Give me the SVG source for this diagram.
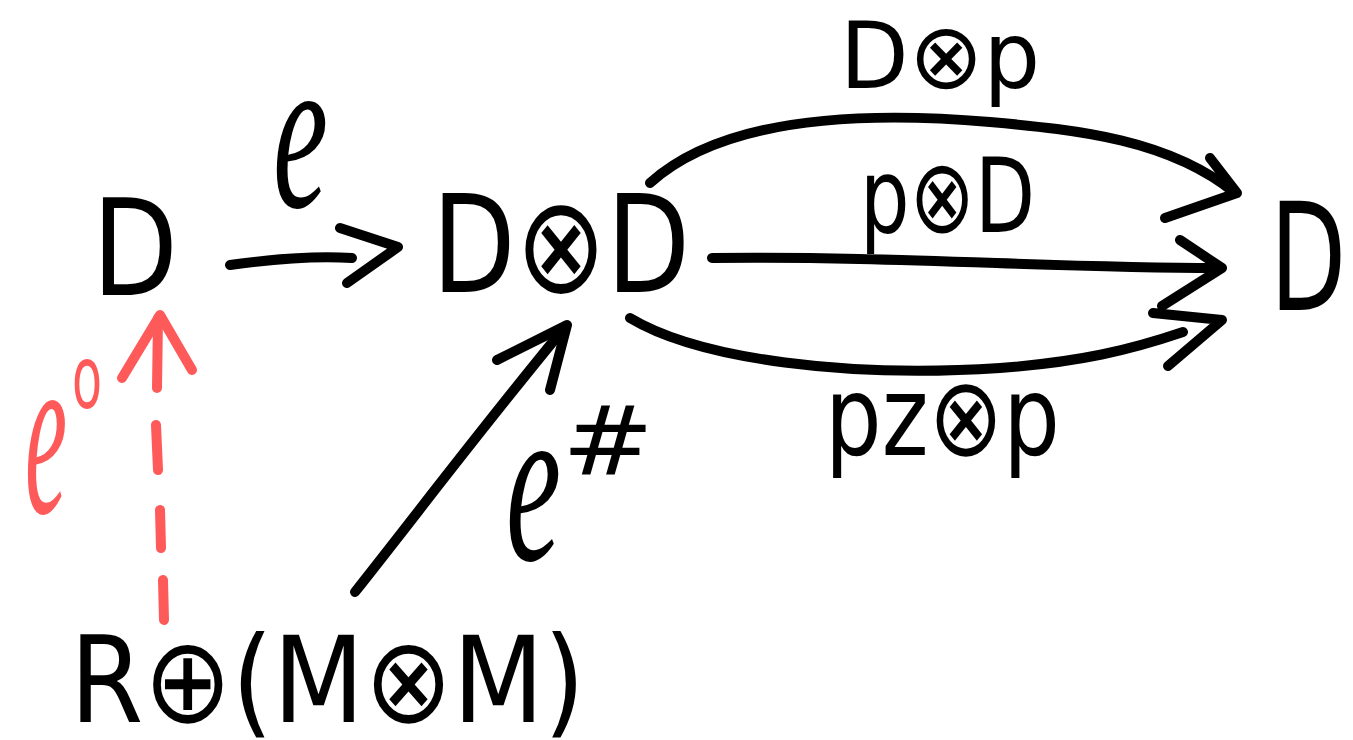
<svg xmlns="http://www.w3.org/2000/svg" width="1353" height="740" viewBox="0 0 1353 740">
<style>
.n{font-family:"DejaVu Sans","Liberation Sans",sans-serif;fill:#000}
.lb{font-family:"DejaVu Sans","Liberation Sans",sans-serif;fill:#000}
.e{font-family:"Liberation Serif","DejaVu Serif",serif;font-style:italic}
.k{fill:none;stroke:#000;stroke-width:10;stroke-linecap:round;stroke-linejoin:round}
.r{fill:none;stroke:#FF5A5A;stroke-width:10;stroke-linecap:round;stroke-linejoin:round}
</style>
<rect width="1353" height="740" fill="#fff"/>
<g id="node-D-left"><text class="n" x="92" y="295" font-size="133" textLength="86" lengthAdjust="spacingAndGlyphs">D</text></g>
<g id="node-DD"><text class="n" x="432" y="292" font-size="135" textLength="258" lengthAdjust="spacingAndGlyphs">D⊗D</text></g>
<g id="node-D-right"><text class="n" transform="translate(1270,310) scale(0.66,1)" x="0" y="0" font-size="150">D</text></g>
<g id="node-RMM"><text class="n" x="70" y="722" font-size="120" textLength="515" lengthAdjust="spacingAndGlyphs">R⊕(M⊗M)</text></g>
<g id="connectors">
<path class="k" d="M230,265 C280,258 320,256 352,258"/>
<path class="k" d="M340,228 L398,247 L347,283"/>
<path class="k" d="M355,592 C420,510 480,430 565,327"/>
<path class="k" d="M497,360 L567,325 L550,390"/>
<path class="k" d="M650,183 C720,120 850,110 990,122 C1080,130 1170,140 1235,193"/>
<path class="k" d="M1210,158 L1237,193 L1165,218"/>
<path class="k" d="M712,258 C900,256 1050,268 1217,268"/>
<path class="k" d="M1180,240 L1222,268 L1162,306"/>
<path class="k" d="M630,318 C700,360 850,378 1000,368 C1080,362 1130,350 1183,332"/>
<path class="k" d="M1153,313 L1222,320 L1168,366"/>
<path class="r" d="M158,318 L157,388 M156,425 L158,470 M160,510 L161,548 M163,580 L164,620"/>
<path class="r" d="M122,378 L160,315 L192,370"/>
</g>
<g id="labels">
<text class="lb e" x="273" y="207" font-size="225" textLength="55" lengthAdjust="spacingAndGlyphs">e</text>
<text fill="#FF5A5A"><tspan class="e" x="25" y="513" font-size="240" textLength="42" lengthAdjust="spacingAndGlyphs">e</tspan><tspan x="72" y="408" font-size="88" font-family="DejaVu Sans,sans-serif" textLength="30" lengthAdjust="spacingAndGlyphs">o</tspan></text>
<text class="lb"><tspan class="e" x="506" y="560" font-size="230" textLength="55" lengthAdjust="spacingAndGlyphs">e</tspan><tspan x="562" y="474" font-size="96" textLength="92" lengthAdjust="spacingAndGlyphs">#</tspan></text>
<text class="lb" x="840" y="88" font-size="92" textLength="200" lengthAdjust="spacingAndGlyphs">D⊗p</text>
<text class="lb" x="860" y="232" font-size="103" textLength="175" lengthAdjust="spacingAndGlyphs">p⊗D</text>
<text class="lb" x="825" y="455" font-size="110" textLength="235" lengthAdjust="spacingAndGlyphs">pz⊗p</text>
</g>
</svg>
